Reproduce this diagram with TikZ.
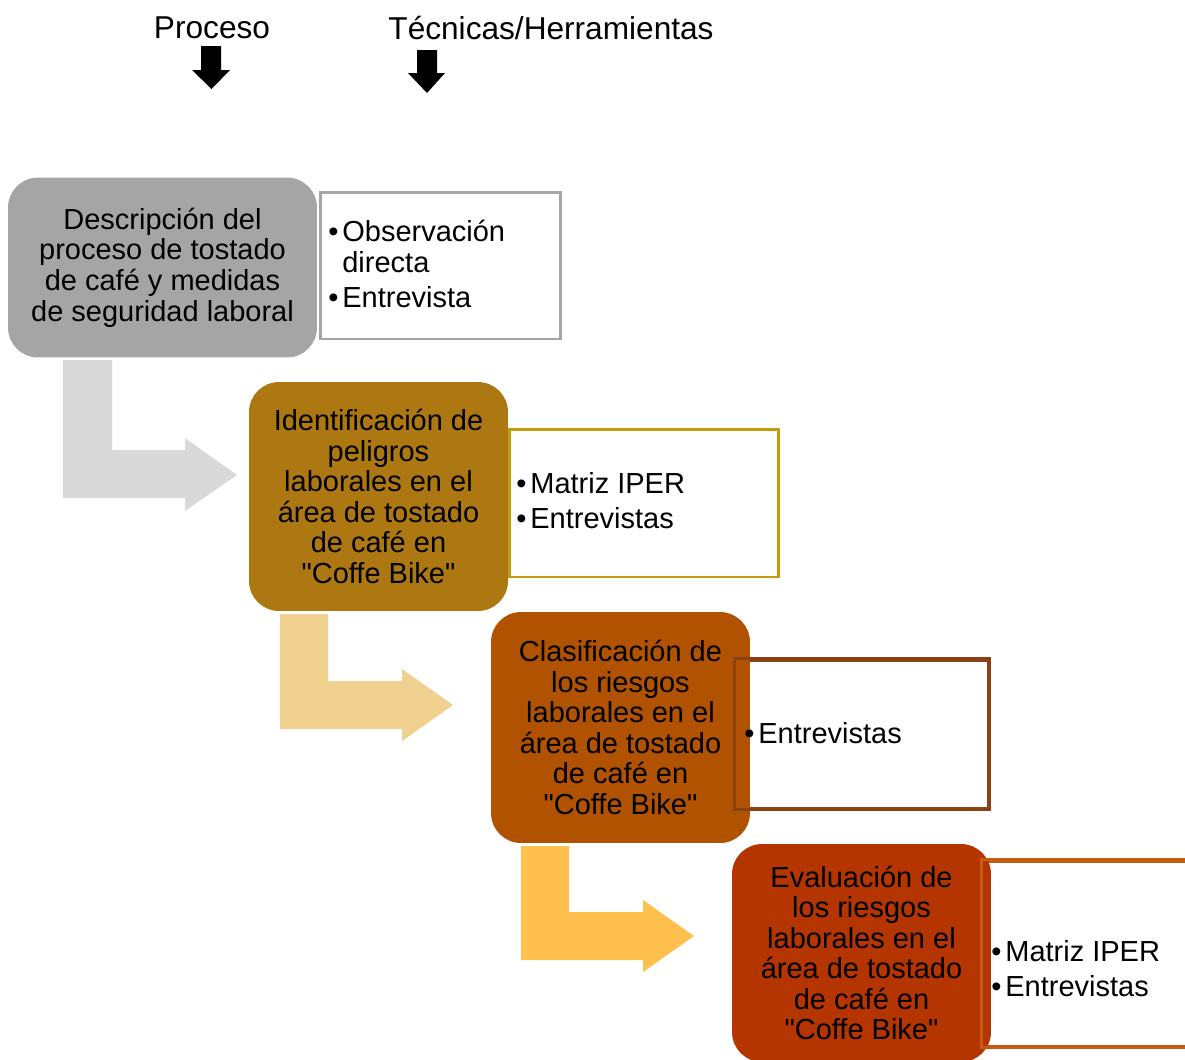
\documentclass[tikz,border=0pt]{standalone}
\usepackage{fontspec}
\setmainfont{Liberation Sans}[Ligatures=TeXOff]
\definecolor{cB1}{HTML}{A5A5A5}
\definecolor{cL1}{HTML}{D9D9D9}
\definecolor{cB2}{HTML}{AD7811}
\definecolor{cR2}{HTML}{C49A0E}
\definecolor{cL2}{HTML}{EFD08F}
\definecolor{cB3}{HTML}{B05200}
\definecolor{cR3}{HTML}{8A4214}
\definecolor{cL3}{HTML}{FFC04D}
\definecolor{cB4}{HTML}{B43500}
\definecolor{cR4}{HTML}{C55A11}
\tikzset{
  boxtxt/.style={font=\fontsize{16.5}{17.4}\selectfont},
  procbox/.style={rectangle, rounded corners=0.6cm, inner sep=0pt, align=center, boxtxt, text=black},
  techbox/.style={rectangle, fill=white, inner sep=0pt, line width=1.7pt},
  techtxt/.style={anchor=west, inner sep=0pt, boxtxt, text=black},
  head/.style={font=\fontsize{18}{20}\selectfont, text=black}
}
\newcommand{\bl}{\textbullet}
\newenvironment{blist}{\begin{tabular}{@{}l@{\hspace{2.2pt}}l@{}}}{\end{tabular}}
\begin{document}
\begin{tikzpicture}[x=0.02cm,y=-0.02cm]
\useasboundingbox (0,0) rectangle (1185,1059);
\clip (0,0) rectangle (1185,1059);
% headers
\node[head] (hp) at (212,28) {Proceso};
\node[head] (ht) at (551,28) {Técnicas/Herramientas};
\fill[black] (201,46) -- (221,46) -- (221,70) -- (230,70) -- (211.5,89) -- (192,70) -- (201,70) -- cycle;
\fill[black] (417,50) -- (437,50) -- (437,73) -- (445,73) -- (427,93) -- (408,73) -- (417,73) -- cycle;
% L arrows
\fill[cL1] (63,360) -- (112,360) -- (112,450) -- (185,450) -- (185,438) -- (237,475) -- (185,511) -- (185,498) -- (63,498) -- cycle;
\fill[cL2] (280,614) -- (328,614) -- (328,681) -- (402,681) -- (402,669) -- (453,705) -- (402,741) -- (402,729) -- (280,729) -- cycle;
\fill[cL3] (521,846) -- (569,846) -- (569,912) -- (643,912) -- (643,900) -- (694,936) -- (643,972) -- (643,960) -- (521,960) -- cycle;
% technique boxes (fill)
\node[techbox, draw=cB1, minimum width=4.82cm, minimum height=2.94cm] (r1) at (440.5,265.5) {};
\node[techbox, draw=cR2, minimum width=5.40cm, minimum height=2.96cm] (r2) at (644,503) {};
\node[techbox, draw=cR3, minimum width=5.04cm, minimum height=2.96cm] (r3) at (862,734) {};
\node[techbox, draw=cR4, minimum width=5.34cm, minimum height=3.70cm] (r4) at (1116,953.5) {};
% process boxes
\node[procbox, fill=cB1, minimum width=6.18cm, minimum height=3.6cm] (b1) at (162.5,267.5)
  {Descripción del\\proceso de tostado\\de café y medidas\\de seguridad laboral};
\node[procbox, fill=cB2, minimum width=5.18cm, minimum height=4.58cm] (b2) at (378.5,496.5)
  {Identificación de\\peligros\\laborales en el\\área de tostado\\de café en\\"Coffe Bike"};
\node[procbox, fill=cB3, minimum width=5.18cm, minimum height=4.62cm] (b3) at (620.5,727.5)
  {Clasificación de\\los riesgos\\laborales en el\\área de tostado\\de café en\\"Coffe Bike"};
\node[procbox, fill=cB4, minimum width=5.18cm, minimum height=4.36cm] (b4) at (861.5,953)
  {Evaluación de\\los riesgos\\laborales en el\\área de tostado\\de café en\\"Coffe Bike"};
% borders on top
\draw[line width=1.7pt, cR3] (r3.south west) rectangle (r3.north east);
\draw[line width=1.7pt, cR4] (r4.south west) rectangle (r4.north east);
% technique texts
\node[techtxt] (t1) at (328,268.5) {\begin{blist}\bl&Observación\\&directa\\[2.8pt]\bl&Entrevista\end{blist}};
\node[techtxt] (t2) at (516,505) {\begin{blist}\bl&Matriz IPER\\[2.8pt]\bl&Entrevistas\end{blist}};
\node[techtxt] (t3) at (744,737) {\begin{blist}\bl&Entrevistas\end{blist}};
\node[techtxt] (t4) at (991,973) {\begin{blist}\bl&Matriz IPER\\[2.8pt]\bl&Entrevistas\end{blist}};
\end{tikzpicture}
\end{document}
